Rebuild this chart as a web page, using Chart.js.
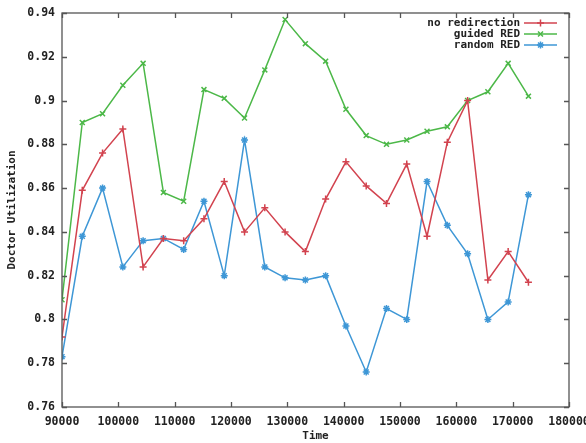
<!DOCTYPE html>
<html>
<head>
<meta charset="utf-8">
<script src="https://cdn.jsdelivr.net/npm/chart.js@4/dist/chart.umd.min.js"></script>
<style>
  html, body { margin: 0; padding: 0; background: #ffffff; }
  #wrap { width: 586px; height: 443px; }
</style>
</head>
<body>
<div id="wrap"><canvas id="c" width="586" height="443"></canvas></div>
<script>
// ---- data ----
const times = [90000, 93600, 97200, 100800, 104400, 108000, 111600, 115200, 118800, 122400, 126000, 129600,
               133200, 136800, 140400, 144000, 147600, 151200, 154800, 158400, 162000, 165600, 169200, 172800];
const noRedirection = [0.792, 0.859, 0.876, 0.887, 0.824, 0.837, 0.836, 0.846, 0.863, 0.840, 0.851, 0.840,
                       0.831, 0.855, 0.872, 0.861, 0.853, 0.871, 0.838, 0.881, 0.900, 0.818, 0.831, 0.817];
const guidedRED = [0.809, 0.890, 0.894, 0.907, 0.917, 0.858, 0.854, 0.905, 0.901, 0.892, 0.914, 0.937,
                   0.926, 0.918, 0.896, 0.884, 0.880, 0.882, 0.886, 0.888, 0.900, 0.904, 0.917, 0.902];
const randomRED = [0.783, 0.838, 0.860, 0.824, 0.836, 0.837, 0.832, 0.854, 0.820, 0.882, 0.824, 0.819,
                   0.818, 0.820, 0.797, 0.776, 0.805, 0.800, 0.863, 0.843, 0.830, 0.800, 0.808, 0.857];
const seriesNames = ['no redirection', 'guided RED', 'random RED'];
const xTicks = [90000, 100000, 110000, 120000, 130000, 140000, 150000, 160000, 170000, 180000];
const xTickLabels = ['90000', '100000', '110000', '120000', '130000', '140000', '150000', '160000', '170000', '180000'];
const yTicks = [0.76, 0.78, 0.80, 0.82, 0.84, 0.86, 0.88, 0.90, 0.92, 0.94];
const yTickLabels = ['0.76', '0.78', '0.8', '0.82', '0.84', '0.86', '0.88', '0.9', '0.92', '0.94'];
const xTitle = 'Time';
const yTitle = 'Doctor Utilization';

// ---- styles ----
const FONT = "'DejaVu Sans Mono', 'Liberation Mono', monospace";
const TEXT = '#222222';
const colors = ['#d2434f', '#4cb848', '#3e97d6'];
const styles = ['cross', 'crossRot', 'star'];

function pts(ys) { return times.map((t, i) => ({ x: t, y: ys[i] })); }

const framePlugin = {
  id: 'frame',
  afterDraw(chart) {
    const ctx = chart.ctx;
    const a = chart.chartArea;
    const xs = chart.scales.x, ys = chart.scales.y;
    ctx.save();
    ctx.strokeStyle = '#555555';
    ctx.lineWidth = 1.3;
    ctx.strokeRect(a.left, a.top, a.right - a.left, a.bottom - a.top);
    const tl = 5;
    ctx.beginPath();
    xs.ticks.forEach((t, i) => {
      const px = Math.round(xs.getPixelForTick(i)) + 0.5;
      ctx.moveTo(px, a.bottom); ctx.lineTo(px, a.bottom - tl);
      ctx.moveTo(px, a.top); ctx.lineTo(px, a.top + tl);
    });
    ys.ticks.forEach((t, i) => {
      const py = Math.round(ys.getPixelForTick(i)) + 0.5;
      ctx.moveTo(a.left, py); ctx.lineTo(a.left + tl, py);
      ctx.moveTo(a.right, py); ctx.lineTo(a.right - tl, py);
    });
    ctx.stroke();

    // legend (top-right, gnuplot style)
    const textRight = a.right - 49;
    const lineL = a.right - 45, lineR = a.right - 12;
    ctx.font = 'bold 11px ' + FONT;
    ctx.textAlign = 'right';
    ctx.textBaseline = 'middle';
    chart.data.datasets.forEach((ds, i) => {
      const y = a.top + 10 + i * 11;
      ctx.fillStyle = TEXT;
      ctx.fillText(ds.label, textRight, y);
      ctx.strokeStyle = ds.borderColor;
      ctx.lineWidth = 1.5;
      ctx.beginPath();
      ctx.moveTo(lineL, y); ctx.lineTo(lineR, y);
      ctx.stroke();
      Chart.helpers.drawPoint(ctx, {
        pointStyle: ds.pointStyle, rotation: 0, radius: ds.pointRadius, borderWidth: 1.5
      }, (lineL + lineR) / 2, y);
    });
    ctx.restore();
  }
};

new Chart(document.getElementById('c'), {
  type: 'line',
  data: {
    datasets: [noRedirection, guidedRED, randomRED].map((ys, i) => ({
      label: seriesNames[i],
      data: pts(ys),
      borderColor: colors[i],
      backgroundColor: colors[i],
      borderWidth: 1.5,
      pointStyle: styles[i],
      pointRadius: 3.5,
      pointBorderWidth: 1.5,
      tension: 0,
      fill: false
    }))
  },
  options: {
    responsive: false,
    devicePixelRatio: 1,
    animation: false,
    layout: { padding: { left: 0, right: 17, top: 13, bottom: 0 } },
    plugins: { legend: { display: false }, tooltip: { enabled: false } },
    scales: {
      x: {
        type: 'linear',
        min: 90000, max: 180000,
        afterBuildTicks(scale) { scale.ticks = xTicks.map(v => ({ value: v })); },
        afterFit(scale) { scale.height = 36; scale.paddingLeft = 0; scale.paddingRight = 0; },
        grid: { display: false, drawTicks: false },
        border: { display: false },
        ticks: {
          padding: 8, maxRotation: 0, autoSkip: false,
          color: TEXT, font: { family: FONT, size: 11.5, weight: 'bold' },
          callback: (v, i) => xTickLabels[i]
        },
        title: { display: true, text: xTitle, color: TEXT, padding: { top: 0, bottom: 0 },
                 font: { family: FONT, size: 11, weight: 'bold' } }
      },
      y: {
        type: 'linear',
        min: 0.76, max: 0.94,
        afterBuildTicks(scale) { scale.ticks = yTicks.map(v => ({ value: v })); },
        afterFit(scale) { scale.width = 62; scale.paddingTop = 0; scale.paddingBottom = 0; },
        grid: { display: false, drawTicks: false },
        border: { display: false },
        ticks: {
          padding: 7, autoSkip: false,
          color: TEXT, font: { family: FONT, size: 11.5, weight: 'bold' },
          callback: (v, i) => yTickLabels[i]
        },
        title: { display: true, text: yTitle, color: TEXT, padding: { top: 6, bottom: 0 },
                 font: { family: FONT, size: 11, weight: 'bold' } }
      }
    }
  },
  plugins: [framePlugin]
});
</script>
</body>
</html>
